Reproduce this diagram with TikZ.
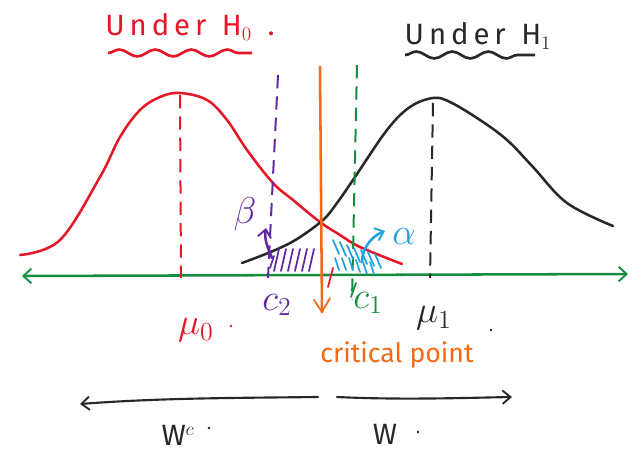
\documentclass[tikz,border=0pt]{standalone}
\usepackage{fontspec}
\setmainfont{Fira Sans}
\usetikzlibrary{arrows.meta,decorations.pathmorphing}
\definecolor{hred}{RGB}{228,22,40}
\definecolor{hblack}{RGB}{40,40,40}
\definecolor{hgreen}{RGB}{22,140,62}
\definecolor{hpurple}{RGB}{98,40,160}
\definecolor{hblue}{RGB}{30,162,222}
\definecolor{horange}{RGB}{245,105,20}
\newcommand{\mybigmath}[1]{\scalebox{1.35}{#1}}
\tikzset{
  pen/.style={line width=1.9pt, line cap=round, line join=round},
  thin pen/.style={line width=1.3pt, line cap=round},
  dashline/.style={line width=1.5pt, dash pattern=on 10pt off 6pt},
  barb/.style={-{Straight Barb[length=6pt,width=10pt,line width=1.4pt]}},
  wave/.style={line width=2pt, decorate, decoration={snake, amplitude=2.6pt, segment length=27pt}},
  lbl/.style={inner sep=0pt, font=\fontsize{22}{26}\selectfont},
}
\begin{document}
\begin{tikzpicture}[x=0.75pt,y=-0.75pt]
\useasboundingbox (0,0) rectangle (636,453);
% titles
\node[lbl, text=hred] (t0) at (190,27) {U\,n\,d\,e\,r\ \ H$_0$\ \ .};
\draw[wave, hred] (108,53) -- (252,53);
\node[lbl, text=hblack] (t1) at (478,36) {U\,n\,d\,e\,r\ \ H$_1$};
\draw[wave, hblack] (405,55) -- (535,55);
% axis
\coordinate (axL) at (22,276);
\coordinate (axR) at (628,274);
\draw[pen, hgreen, {Straight Barb[length=6pt,width=11pt,line width=1.4pt]}-{Straight Barb[length=6pt,width=11pt,line width=1.4pt]}] (axL) -- (axR);
% curves
\draw[pen, hred] plot[smooth, tension=0.6] coordinates {(20,255) (60,240) (100,177) (120,137) (140,110) (160,97) (180,93) (207,100) (227,120) (247,150) (273,183) (293,200) (320,222) (340,235) (360,247) (402,264)};
\draw[pen, hblack] plot[smooth, tension=0.6] coordinates {(242,263) (273,251) (297,239) (323,220) (337,203) (353,180) (387,130) (410,107) (433,98) (450,102) (480,120) (507,140) (533,167) (567,203) (613,226)};
% verticals
\draw[dashline, hred] (180,95) -- (181,278);
\draw[dashline, hblack] (433,103) -- (430,278);
\draw[dashline, hpurple] (278,75) -- (268,278);
\draw[dashline, hgreen] (357,65) -- (352,300);
\coordinate (oT) at (320,67);
\coordinate (oB) at (322,312);
\draw[pen, horange] (oT) -- (oB);
\draw[thin pen, horange] (314,300) -- (322,312) -- (330,298);
\draw[thin pen, hred] (333,268) -- (328,287);
\draw[thin pen, hgreen] (356,283) -- (351,297);
% purple hatch
\foreach \x in {274,281,288,295,302,309}
  \draw[thin pen, hpurple] (\x,271) -- (\x+5,249);
\draw[thin pen, hpurple] (270,268) -- (274,256);
% blue hatch
\foreach \x/\yt in {333/240,340/242,347/245,354/248,361/250,368/252,375/254}
  \draw[thin pen, hblue] (\x,\yt) -- (\x+6,\yt+14);
\foreach \x/\yt in {335/258,342/258,349/258,356/260,363/262,370/262}
  \draw[thin pen, hblue] (\x,\yt) -- (\x+4,\yt+12);
% beta, alpha arrows
\coordinate (bS) at (272,258);
\coordinate (bE) at (266,228);
\draw[pen, hpurple, barb] (bS) .. controls (268,248) and (264,240) .. (bE);
\coordinate (aS) at (362,262);
\coordinate (aE) at (385,231);
\draw[pen, hblue, barb] (aS) .. controls (362,248) and (372,236) .. (aE);
\node[lbl, text=hpurple] (beta) at (245,214) {\mybigmath{$\beta$}};
\node[lbl, text=hblue] (alpha) at (404,236) {\mybigmath{$\alpha$}};
% labels
\node[lbl, text=hred] (mu0) at (196,330) {\mybigmath{$\mu_0$}};
\fill[hred] (231,326) circle (1pt);
\node[lbl, text=hpurple] (c2) at (277,305) {\mybigmath{$c_2$}};
\node[lbl, text=hgreen] (c1) at (368,303) {\mybigmath{$c_1$}};
\node[lbl, text=hblack] (mu1) at (434,318) {\mybigmath{$\mu_1$}};
\fill[hblack] (491,330) circle (1pt);
\node[lbl, text=horange, font=\fontsize{20}{24}\selectfont] (crit) at (397,355) {critical point};
% W arrows
\coordinate (wl) at (318,397);
\coordinate (wlE) at (80,404);
\coordinate (wr) at (337,397);
\coordinate (wrE) at (512,397);
\draw[pen, hblack, line width=1.6pt, barb] (wl) .. controls (230,398) and (160,398) .. (wlE);
\draw[pen, hblack, line width=1.6pt, barb] (wr) .. controls (400,400) and (460,398) .. (wrE);
\node[lbl, text=hblack] (wc) at (178,435) {W$^{c}$};
\fill[hblack] (209,428) circle (1pt);
\node[lbl, text=hblack] (w) at (385,434) {W};
\fill[hblack] (418,432) circle (1pt);
\end{tikzpicture}
\end{document}
